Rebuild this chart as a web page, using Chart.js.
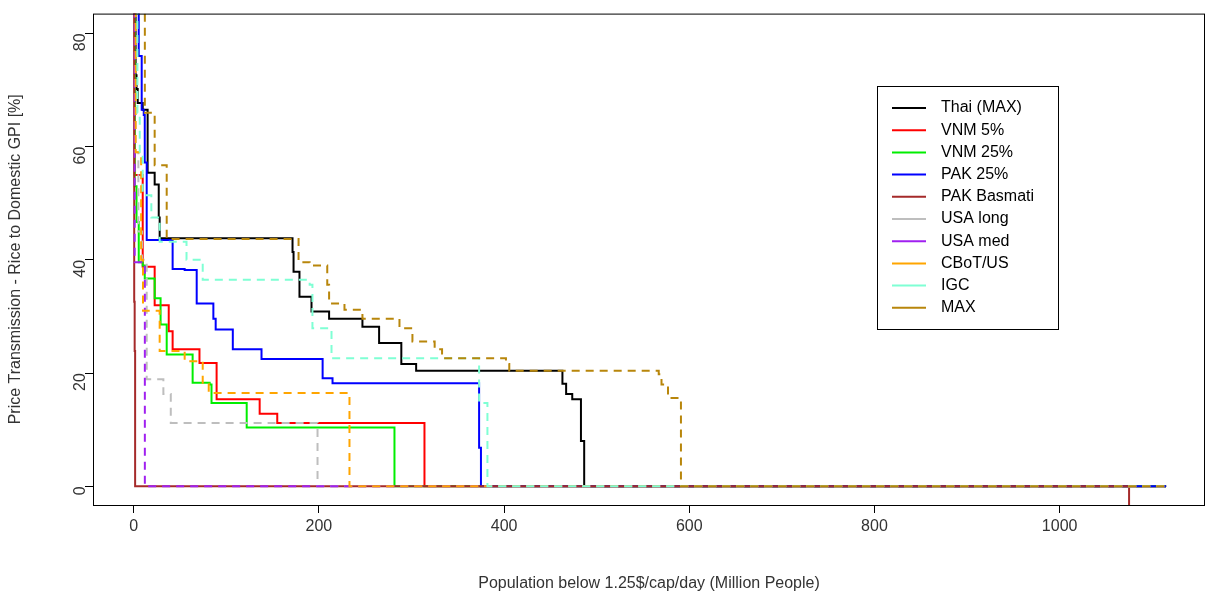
<!DOCTYPE html>
<html>
<head>
<meta charset="utf-8">
<script src="https://cdn.jsdelivr.net/npm/chart.js@4"></script>
<style>
  body { margin: 0; background: #fff; }
  #wrap { width: 1207px; height: 597px; }
</style>
</head>
<body>
<div id="wrap"><canvas id="rice"></canvas></div>
<script>
// step curves: [x (million people), y (%)], each y holds until next x
const thai = [[0,84],[2,72.6],[3,70.2],[4.3,67.7],[9.7,66.5],[15,55.4],[22.6,53.3],[27,47.5],[28,43.8],[171.5,41.4],[172.6,37.9],[179,33.5],[192,30.9],[211,29.6],[247,28.2],[265,25.3],[289,21.6],[305,20.4],[463,18.1],[467,16.3],[473.6,15.4],[483,8],[486.5,0],[1115,0]];
const vnm5 = [[0,84],[1,55],[9.7,38.8],[22.6,32],[37.8,27.4],[42,24.2],[71,21.8],[89.5,15.4],[136,12.8],[155,11.2],[314,0],[1115,0]];
const vnm25 = [[0,84],[1,53],[3,46.7],[5.4,39.6],[9.7,39],[11.9,36.7],[22.6,33.2],[29,28.6],[35.6,23.3],[63.6,18.3],[82,18],[84,14.7],[122,10.4],[281.6,0],[1115,0]];
const pak25 = [[0,84],[5.4,76],[8.6,66.5],[10.8,65.6],[11.9,57.2],[14,43.5],[42,38.4],[55,38.2],[68,32.3],[86,29.6],[88.5,27.7],[107,24.2],[130.5,24.2],[138,22.5],[204,19.1],[214.7,18.2],[373,6.8],[375,0],[1115,0]];
const pakBasmati = [[0,84],[0.5,32.6],[1,23.9],[1.5,0],[1075,-10]];
const usaLong = [[0,84],[2,59],[5,45],[9,40],[14,18.9],[32,16.3],[40,11.2],[198.5,0],[1115,0]];
const usaMed = [[0,84],[1,39.6],[12,0],[1115,0]];
const cbot = [[0,84],[2,59],[8,40],[10,31],[20.5,31],[28,23.9],[55,22.1],[74.5,18.1],[81,16.5],[233,0],[1115,0]];
const igc = [[0,84],[4,66],[6.5,58.6],[9.7,51.4],[19,47.5],[28,43.2],[57,40],[74.5,36.5],[190,35.6],[193,27.9],[213.6,22.6],[373,14.7],[382,0],[1115,0]];
const maxS = [[0,84],[12,66],[17,66],[22.6,56.7],[35.6,43.7],[178,39.6],[190,39],[209,35.6],[211,32.3],[227.6,31.2],[247,29.6],[287,27.9],[301,25.6],[325,24.2],[333,22.6],[402,21.6],[405.6,20.4],[567,19.8],[570,18],[577,15.6],[591,0],[1115,0]];

const seriesNames = ["Thai (MAX)","VNM 5%","VNM 25%","PAK 25%","PAK Basmati","USA long","USA med","CBoT/US","IGC","MAX"];
const seriesData = [thai, vnm5, vnm25, pak25, pakBasmati, usaLong, usaMed, cbot, igc, maxS];
const seriesColors = ["#000000","#FF0000","#00EE00","#0000FF","#A52A2A","#BEBEBE","#A020F0","#FFA500","#7FFFD4","#B8860B"];
const seriesDashed = [false,false,false,false,false,true,true,true,true,true];
const xTicks = [0,200,400,600,800,1000];
const yTicks = [0,20,40,60,80];

const FONT = "'Liberation Sans', Arial, sans-serif";

const frameAndLegend = {
  id: "frameAndLegend",
  afterDraw(chart) {
    const ctx = chart.ctx, a = chart.chartArea;
    ctx.save();
    ctx.strokeStyle = "#000"; ctx.lineWidth = 1;
    ctx.strokeRect(a.left + 0.5, a.top + 0.5, a.right - a.left - 1, a.bottom - a.top);
    // legend box
    ctx.fillStyle = "#fff";
    ctx.fillRect(877, 86, 181, 243);
    ctx.strokeRect(877.5, 86.5, 181, 243);
    ctx.font = "16px " + FONT;
    ctx.textBaseline = "middle";
    seriesNames.forEach((n, i) => {
      const y = 108 + i * 22.2;
      ctx.strokeStyle = seriesColors[i]; ctx.lineWidth = 2;
      ctx.beginPath(); ctx.moveTo(892, y); ctx.lineTo(926, y); ctx.stroke();
      ctx.fillStyle = "#000";
      ctx.fillText(n, 941, y);
    });
    ctx.restore();
  }
};

new Chart(document.getElementById("rice"), {
  type: "line",
  data: {
    datasets: seriesData.map((d, i) => ({
      label: seriesNames[i],
      data: d.map(p => ({ x: p[0], y: p[1] })),
      borderColor: seriesColors[i],
      borderWidth: 2,
      borderDash: seriesDashed[i] ? [8, 6] : [],
      stepped: true,
      pointRadius: 0,
      fill: false,
      order: 10 - i
    }))
  },
  options: {
    responsive: true,
    maintainAspectRatio: false,
    animation: false,
    layout: { padding: { top: 6, right: 2, left: 0, bottom: 0 } },
    plugins: { legend: { display: false }, tooltip: { enabled: false } },
    scales: {
      x: {
        type: "linear", min: -44, max: 1157,
        afterBuildTicks: s => { s.ticks = xTicks.map(v => ({ value: v })); },
        afterFit: s => { s.height = 92; },
        grid: { drawOnChartArea: false, tickLength: 8, color: "#000" },
        border: { display: false },
        ticks: { color: "#333", font: { family: FONT, size: 16 }, padding: 4, callback: v => String(v) },
        title: { display: true, text: "Population below 1.25$/cap/day (Million People)", color: "#333", font: { family: FONT, size: 16 }, padding: { top: 30 } }
      },
      y: {
        type: "linear", min: -3.3, max: 83.5,
        afterBuildTicks: s => { s.ticks = yTicks.map(v => ({ value: v })); },
        afterFit: s => { s.width = 93; },
        grid: { drawOnChartArea: false, tickLength: 8, color: "#000" },
        border: { display: false },
        ticks: { color: "#333", font: { family: FONT, size: 16 }, minRotation: 90, maxRotation: 90, padding: 4, callback: v => String(v) },
        title: { display: true, text: "Price Transmission - Rice to Domestic GPI [%]", color: "#333", font: { family: FONT, size: 16 }, padding: { top: 6, bottom: 14 } }
      }
    }
  },
  plugins: [frameAndLegend]
});
</script>
</body>
</html>
